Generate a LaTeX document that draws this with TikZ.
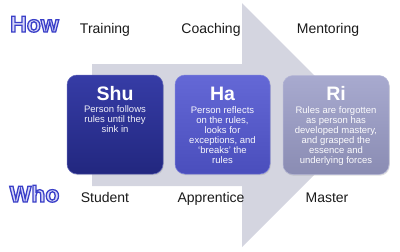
\documentclass[tikz,border=0pt]{standalone}
\usepackage{fontspec}
\setmainfont{Liberation Sans}
\usetikzlibrary{shadows}
\definecolor{arrowgray}{HTML}{D4D5E0}
\definecolor{shutop}{HTML}{363CA6}
\definecolor{shubot}{HTML}{22277F}
\definecolor{hatop}{HTML}{6468D6}
\definecolor{habot}{HTML}{4A4EBC}
\definecolor{ritop}{HTML}{A8AACF}
\definecolor{ribot}{HTML}{8A8CB3}
\definecolor{howblue}{HTML}{3A3FC8}
\definecolor{howfill}{HTML}{D8D8F8}
\definecolor{labeltext}{HTML}{1A1A1A}
\tikzset{
  stagebox/.style={rounded corners=10pt, minimum height=99pt, inner sep=0pt,
    drop shadow={opacity=0.25, shadow xshift=0.8pt, shadow yshift=-1.2pt}},
  stagetitle/.style={anchor=base, inner sep=0pt, text=white, font=\bfseries\fontsize{19.5}{19.5}\selectfont},
  stagebody/.style={anchor=base, inner sep=0pt, text=white, font=\fontsize{9.5}{10.2}\selectfont},
  toplabel/.style={anchor=base, inner sep=0pt, text=labeltext, font=\fontsize{14}{14}\selectfont},
  rowhead/.style={anchor=base, inner sep=0pt, font=\bfseries\fontsize{23}{23}\selectfont}
}
\newcommand{\bodytext}[1]{\parbox[t]{100pt}{\centering #1}}
\newcommand{\outlined}[1]{{\color{howfill}\special{pdf:literal direct 0.227 0.247 0.784 RG 1.3 w 2 Tr}#1\special{pdf:literal direct 0 Tr}}}
\begin{document}
\begin{tikzpicture}[x=1pt,y=-1pt]
\useasboundingbox (0,0) rectangle (400,252);
% big arrow
\fill[arrowgray] (92,64) -- (242,64) -- (242,3) -- (364,125) -- (242,247) -- (242,186) -- (92,186) -- cycle;
% boxes
\node[stagebox, minimum width=96pt, top color=shutop, bottom color=shubot, draw=shutop!80!white, line width=0.5pt] (shu) at (115,124.5) {};
\node[stagebox, minimum width=95pt, top color=hatop, bottom color=habot, draw=hatop!85!white, line width=0.5pt] (ha) at (222.5,124.5) {};
\node[stagebox, minimum width=106pt, top color=ritop, bottom color=ribot, draw=ritop!85!white, line width=0.5pt] (ri) at (336,125) {};
% titles
\node[stagetitle] (shut) at (115,100) {Shu};
\node[stagetitle] (hat) at (222.5,100) {Ha};
\node[stagetitle] (rit) at (336,100) {Ri};
% bodies
\node[stagebody, text=white!92!shutop] (shub) at (115,112) {\bodytext{Person follows\\rules until they\\sink in}};
\node[stagebody, text=white!95!hatop] (hab) at (222.5,113) {\bodytext{Person reflects\\on the rules,\\looks for\\exceptions, and\\‘breaks’ the\\rules}};
\node[stagebody, text=white!95!ritop] (rib) at (336,113) {\bodytext{Rules are forgotten\\as person has\\developed mastery,\\and grasped the\\essence and\\underlying forces}};
% row labels
\node[toplabel] (training) at (105,33) {Training};
\node[toplabel] (coaching) at (211,33) {Coaching};
\node[toplabel] (mentoring) at (328,33) {Mentoring};
\node[toplabel] (student) at (105,202) {Student};
\node[toplabel] (apprentice) at (211,202) {Apprentice};
\node[toplabel] (master) at (327,202) {Master};
% outlined row heads
\node[rowhead] (how) at (34.5,32) {\outlined{How}};
\node[rowhead] (who) at (34.5,202) {\outlined{Who}};
\end{tikzpicture}
\end{document}
